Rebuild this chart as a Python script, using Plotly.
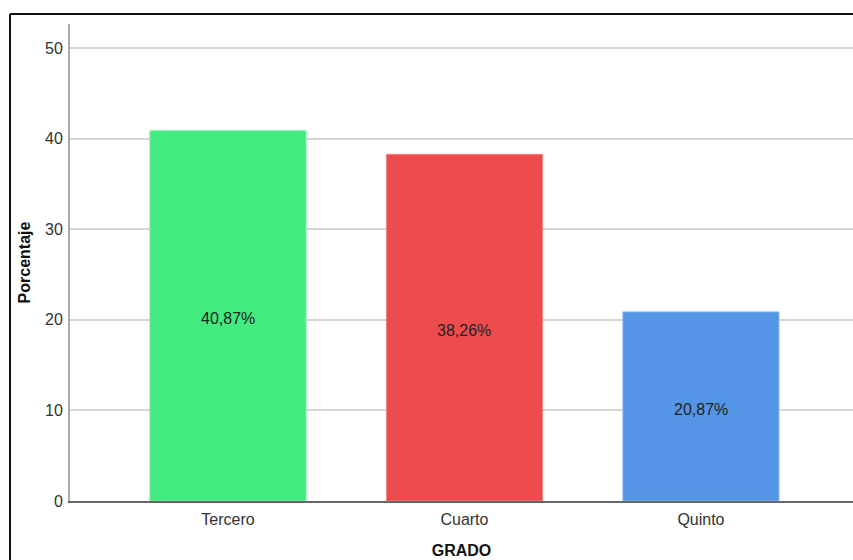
import plotly.graph_objects as go

# Distribución de estudiantes por grado
grados = ["Tercero", "Cuarto", "Quinto"]
porcentajes = [40.87, 38.26, 20.87]
colores = ["#43EA7F", "#EE4B4E", "#5595E5"]
bordes = ["#7CF0A5", "#F38587", "#8AB8EE"]
y_ticks = [0, 10, 20, 30, 40, 50]

etiquetas = [f"{v:.2f}%".replace(".", ",") for v in porcentajes]

fig = go.Figure(
    go.Bar(
        x=grados,
        y=porcentajes,
        width=0.66,
        marker=dict(color=colores, line=dict(color=bordes, width=1)),
        hoverinfo="skip",
    )
)

# etiquetas de porcentaje centradas en cada barra
for g, v, t in zip(grados, porcentajes, etiquetas):
    fig.add_annotation(
        x=g, y=v / 2, text=t, showarrow=False, yshift=-3,
        font=dict(family="Liberation Sans, Arial", size=16, color="#222222"),
    )

font = dict(family="Liberation Sans, Arial", size=16, color="#333333")

fig.update_layout(
    width=853,
    height=560,
    margin=dict(l=70, r=0, t=24, b=59),
    paper_bgcolor="white",
    plot_bgcolor="white",
    showlegend=False,
    font=font,
    xaxis=dict(
        range=[-0.668, 2.643],
        showgrid=False,
        zeroline=False,
        showline=True,
        linecolor="#666666",
        linewidth=2,
        ticks="",
        tickfont=font,
        ticklabelstandoff=3,
        title=dict(
            text="<b>GRADO</b>",
            font=dict(family="Liberation Sans, Arial", size=16, color="#111111"),
            standoff=18,
        ),
    ),
    yaxis=dict(
        range=[0, 52.65],
        tickvals=y_ticks,
        showgrid=True,
        gridcolor="#D6D6D6",
        gridwidth=2,
        zeroline=False,
        showline=True,
        linecolor="#AAAAAA",
        linewidth=2,
        ticks="",
        tickfont=font,
        ticklabelstandoff=2,
        title=dict(
            text="<b>Porcentaje</b>",
            font=dict(family="Liberation Sans, Arial", size=16, color="#111111"),
            standoff=10,
        ),
    ),
    shapes=[
        # marco exterior (superior e izquierdo)
        dict(type="line", xref="paper", yref="paper",
             x0=-0.0766, x1=1.01, y0=1.021, y1=1.021,
             line=dict(color="#111111", width=2)),
        dict(type="line", xref="paper", yref="paper",
             x0=-0.0766, x1=-0.0766, y0=1.021, y1=-0.15,
             line=dict(color="#111111", width=2)),
    ],
)

fig.write_html("out.html")
